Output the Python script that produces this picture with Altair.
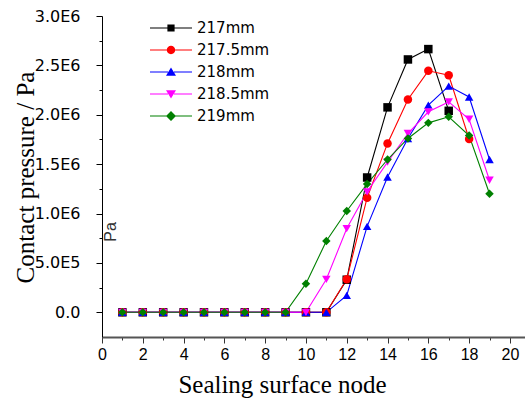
import altair as alt
import pandas as pd

# ---- data ----
series_names = ["217mm", "217.5mm", "218mm", "218.5mm", "219mm"]
series_colors = ["#000000", "#ff0000", "#0000ff", "#ff00ff", "#008000"]
series_shapes = ["square", "circle", "triangle-up", "triangle-down", "diamond"]

nodes_217 = [1, 2, 3, 4, 5, 6, 7, 8, 9, 10, 11, 12, 13, 14, 15, 16, 17]
p_217 = [0, 0, 0, 0, 0, 0, 0, 0, 0, 0, 0, 330000, 1365000, 2075000, 2560000, 2665000, 2040000]

nodes_2175 = [1, 2, 3, 4, 5, 6, 7, 8, 9, 10, 11, 12, 13, 14, 15, 16, 17, 18]
p_2175 = [0, 0, 0, 0, 0, 0, 0, 0, 0, 0, 0, 334000, 1160000, 1710000, 2155000, 2445000, 2400000, 1755000]

nodes_218 = [1, 2, 3, 4, 5, 6, 7, 8, 9, 10, 11, 12, 13, 14, 15, 16, 17, 18, 19]
p_218 = [0, 0, 0, 0, 0, 0, 0, 0, 0, 0, 0, 172000, 870000, 1370000, 1760000, 2097000, 2290000, 2180000, 1547000]

nodes_2185 = [1, 2, 3, 4, 5, 6, 7, 8, 9, 10, 11, 12, 13, 14, 15, 16, 17, 18, 19]
p_2185 = [0, 0, 0, 0, 0, 0, 0, 0, 0, 0, 334000, 848000, 1220000, 1520000, 1810000, 2030000, 2130000, 1955000, 1337000]

nodes_219 = [1, 2, 3, 4, 5, 6, 7, 8, 9, 10, 11, 12, 13, 14, 15, 16, 17, 18, 19]
p_219 = [0, 0, 0, 0, 0, 0, 0, 0, 0, 290000, 722000, 1026000, 1300000, 1547000, 1760000, 1918000, 1980000, 1790000, 1200000]

x_tick_values = [0, 1, 2, 3, 4, 5, 6, 7, 8, 9, 10, 11, 12, 13, 14, 15, 16, 17, 18, 19, 20]
y_major_values = [0, 500000, 1000000, 1500000, 2000000, 2500000, 3000000]
y_major_labels = ["0.0", "5.0E5", "1.0E6", "1.5E6", "2.0E6", "2.5E6", "3.0E6"]
y_minor_values = [250000, 750000, 1250000, 1750000, 2250000, 2750000]

all_nodes = [nodes_217, nodes_2175, nodes_218, nodes_2185, nodes_219]
all_p = [p_217, p_2175, p_218, p_2185, p_219]

rows = []
for i, (name, ns, ps) in enumerate(zip(series_names, all_nodes, all_p)):
    for n, p in zip(ns, ps):
        rows.append({"node": n, "pressure": p, "series": name, "series_lg": name, "idx": i})
df = pd.DataFrame(rows)

# ---- legend glyphs: a line with the marker on it ----
# custom symbol paths are scaled by sqrt(symbolSize)/2; symbolSize 1764 -> scale 21 px
LG_SIZE = 1764
K = 21.0


def P(v):
    return f"{v / K:.4f}"


def seg_path():
    t = 0.6
    return (f"M{P(-21)},{P(-t)}H{P(-3)}V{P(t)}H{P(-21)}Z "
            f"M{P(3)},{P(-t)}H{P(21)}V{P(t)}H{P(3)}Z ")


legend_glyphs = [
    seg_path() + f"M{P(-3.6)},{P(-3.6)}H{P(3.6)}V{P(3.6)}H{P(-3.6)}Z",
    seg_path() + f"M{P(-4.2)},0A{P(4.2)},{P(4.2)} 0 1,1 {P(4.2)},0A{P(4.2)},{P(4.2)} 0 1,1 {P(-4.2)},0Z",
    seg_path() + f"M0,{P(-4.6)}L{P(5)},{P(3.8)}L{P(-5)},{P(3.8)}Z",
    seg_path() + f"M0,{P(4.6)}L{P(-5)},{P(-3.8)}L{P(5)},{P(-3.8)}Z",
    seg_path() + f"M0,{P(-5)}L{P(5)},0L0,{P(5)}L{P(-5)},0Z",
]

# ---- axes ----
vals_js = "[" + ",".join(str(v) for v in y_major_values) + "]"
labs_js = "[" + ",".join("'" + s + "'" for s in y_major_labels) + "]"
y_label_expr = (
    f"indexof({vals_js}, datum.value) >= 0 ? {labs_js}[indexof({vals_js}, datum.value)] : ''"
)

x_scale = alt.Scale(domain=[0, 20.74], nice=False, zero=False)
y_scale = alt.Scale(domain=[-250000, 3000000], nice=False, zero=False)

x_axis = alt.Axis(
    values=x_tick_values,
    labelExpr="datum.value % 2 == 0 ? datum.label : ''",
    title="Sealing surface node",
    titleFont="Liberation Serif",
    titleFontSize=25,
    titleFontWeight="normal",
    titleColor="#000000",
    titleX=180,
    titleY=47,
    titleBaseline="middle",
    titleAlign="center",
    labelFont="Liberation Sans",
    labelFontSize=16,
    labelColor="#000000",
    labelPadding=3,
    tickSize={"condition": {"test": "datum.value % 2 == 0", "value": 6}, "value": 3},
    tickColor="#333333",
    domainColor="#555555",
    domainWidth=2,
    grid=False,
    labelOverlap=False,
    labelFlush=False,
)

y_axis = alt.Axis(
    values=sorted(y_major_values + y_minor_values),
    labelExpr=y_label_expr,
    title="Contact pressure / Pa",
    titleFont="Liberation Serif",
    titleFontSize=25,
    titleFontWeight="normal",
    titleColor="#000000",
    titleAngle=270,
    titleX=-77,
    titleY=161,
    titleBaseline="middle",
    titleAlign="center",
    labelFont="DejaVu Sans",
    labelFontSize=16,
    labelColor="#000000",
    labelPadding=16,
    tickSize={"condition": {"test": "datum.value % 500000 == 0", "value": 6}, "value": 3},
    tickColor="#000000",
    domainColor="#000000",
    domainWidth=1,
    grid=False,
    labelOverlap=False,
    labelFlush=False,
)

base = alt.Chart(df)
series_sort = alt.EncodingSortField(field="idx", op="min")

lines = base.mark_line(strokeWidth=1.1).encode(
    x=alt.X("node:Q", scale=x_scale, axis=x_axis),
    y=alt.Y("pressure:Q", scale=y_scale, axis=y_axis),
    color=alt.Color("series:N", sort=series_sort, scale=alt.Scale(range=series_colors), legend=None),
)

points = base.mark_point(filled=True, size=72, opacity=1, strokeWidth=0).encode(
    x=alt.X("node:Q", scale=x_scale, axis=x_axis),
    y=alt.Y("pressure:Q", scale=y_scale, axis=y_axis),
    shape=alt.Shape("series:N", sort=series_sort, scale=alt.Scale(range=series_shapes), legend=None),
    color=alt.Color("series:N", sort=series_sort, scale=alt.Scale(range=series_colors), legend=None),
    order=alt.Order("idx:Q"),
)

# legend-only layer: its marks fall outside the plotting domain and are clipped away
legend_kw = dict(
    title=None,
    orient="none",
    legendX=48,
    legendY=1,
    padding=0,
    symbolSize=LG_SIZE,
    symbolStrokeWidth=0,
    symbolOpacity=1,
    labelFont="DejaVu Sans",
    labelFontSize=15,
    labelColor="#000000",
    labelOffset=5,
    rowPadding=0,
    clipHeight=22,
)
legend_layer = (
    base.transform_calculate(off_y="-10000000")
    .mark_point(filled=True, size=4, strokeWidth=0, clip=True)
    .encode(
        x=alt.X("node:Q", scale=x_scale, axis=x_axis),
        y=alt.Y("off_y:Q", scale=y_scale, axis=y_axis),
        shape=alt.Shape(
            "series_lg:N", sort=series_sort, scale=alt.Scale(range=legend_glyphs), legend=alt.Legend(**legend_kw)
        ),
        color=alt.Color(
            "series_lg:N", sort=series_sort, scale=alt.Scale(range=series_colors), legend=alt.Legend(**legend_kw)
        ),
    )
)

stray_text = ["Pa"]
stray = alt.Chart(pd.DataFrame({"t": stray_text})).mark_text(
    angle=270, font="Liberation Sans", fontSize=16, color="#333333", align="center", baseline="middle"
).encode(text="t:N", x=alt.value(9), y=alt.value(216))

chart = (
    alt.layer(lines, points, legend_layer, stray)
    .resolve_scale(color="independent", shape="independent")
    .properties(
        width=423,
        height=321,
        autosize=alt.AutoSizeParams(type="none"),
        padding={"left": 102, "top": 16, "right": 0, "bottom": 70},
        background="#ffffff",
    )
    .configure_view(stroke=None)
)

chart.save("out.html", embed_options={"renderer": "svg", "actions": False})
